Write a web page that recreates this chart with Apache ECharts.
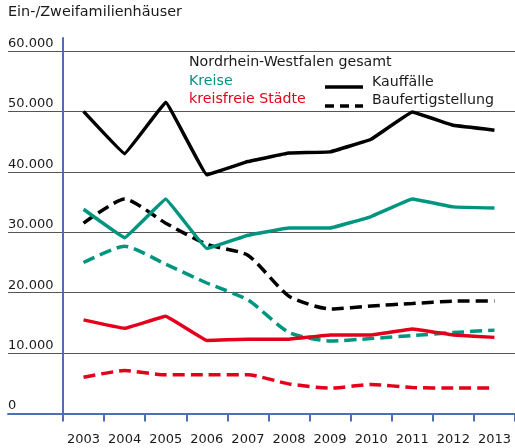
<!DOCTYPE html>
<html>
<head>
<meta charset="utf-8">
<script src="https://cdn.jsdelivr.net/npm/echarts@6/dist/echarts.min.js"></script>
<style>
  html, body { margin: 0; padding: 0; background: #fff; }
  #chart { width: 515px; height: 448px; }
</style>
</head>
<body>
<div id="chart"></div>
<script>
var years = ['2003', '2004', '2005', '2006', '2007', '2008', '2009', '2010', '2011', '2012', '2013']
var yTicks = ['0', '10.000', '20.000', '30.000', '40.000', '50.000', '60.000']

// Nordrhein-Westfalen gesamt
var nrwKauf = [50000, 43000, 51500, 39500, 41700, 43100, 43300, 45400, 49900, 47700, 46900]
var nrwBau = [31500, 35500, 31500, 28000, 26200, 19400, 17300, 17800, 18200, 18600, 18600]
// Kreise
var kreiseKauf = [33800, 29100, 35500, 27300, 29500, 30700, 30700, 32600, 35500, 34200, 34000]
var kreiseBau = [25000, 27700, 24700, 21600, 18800, 13400, 12000, 12400, 12900, 13400, 13800]
// kreisfreie Städte
var staedteKauf = [15500, 14100, 16100, 12100, 12300, 12300, 13000, 13000, 14000, 13000, 12600]
var staedteBau = [6000, 7100, 6400, 6400, 6400, 4900, 4200, 4800, 4300, 4200, 4200]

var black = '#000000'
var teal = '#00957f'
var red = '#e2001a'
var blue = '#4f6fb5'
var txt = '#1a1a1a'

var myChart = echarts.init(document.getElementById('chart'))

function line(name, data, color, dashed) {
  return {
    name: name,
    type: 'line',
    xAxisIndex: 1,
    yAxisIndex: 1,
    data: data,
    symbol: 'none',
    smooth: dashed ? 0.2 : 0.05,
    lineStyle: {
      color: color,
      width: 3.5,
      type: dashed ? [12, 6] : 'solid'
    },
    z: 5
  }
}

var option = {
  animation: false,
  grid: [
    // long gridlines + tick labels
    { left: 8, right: -4, top: 51, height: 362.5 },
    // data area
    { left: 63, right: -4, top: 38, height: 375.5 }
  ],
  xAxis: [
    {
      type: 'value', gridIndex: 0, min: 0, max: 1,
      axisLine: { show: true, lineStyle: { color: blue, width: 2 } },
      axisTick: { show: false }, axisLabel: { show: false }, splitLine: { show: false }
    },
    {
      type: 'category', gridIndex: 1, data: years, boundaryGap: true,
      axisLine: { show: true, lineStyle: { color: blue, width: 2 } },
      axisTick: { show: true, length: 8, lineStyle: { color: blue, width: 2 } },
      axisLabel: { color: txt, fontSize: 13, fontFamily: 'DejaVu Sans', margin: 20, interval: 0 },
      splitLine: { show: false }
    }
  ],
  yAxis: [
    {
      type: 'value', gridIndex: 0, min: 0, max: 60000, interval: 10000,
      axisLine: { show: false }, axisTick: { show: false },
      axisLabel: {
        inside: true, align: 'left', verticalAlign: 'bottom',
        color: txt, fontSize: 13, fontFamily: 'DejaVu Sans', margin: 0,
        padding: [0, 0, 1, 0],
        formatter: function (v) { return yTicks[v / 10000] }
      },
      splitLine: { show: true, lineStyle: { color: '#555', width: 1.2 } }
    },
    {
      type: 'value', gridIndex: 1, min: 0, max: 62150,
      axisLine: { show: true, lineStyle: { color: blue, width: 2 } },
      axisTick: { show: false }, axisLabel: { show: false }, splitLine: { show: false }
    }
  ],
  graphic: [
    { type: 'text', left: 8, top: 5, style: { text: 'Ein-/Zweifamilienhäuser', fill: txt, font: '14.4px "DejaVu Sans"' } },
    { type: 'text', left: 189, top: 55, style: { text: 'Nordrhein-Westfalen gesamt', fill: txt, font: '14.2px "DejaVu Sans"' } },
    { type: 'text', left: 189, top: 74, style: { text: 'Kreise', fill: teal, font: '14.2px "DejaVu Sans"' } },
    { type: 'text', left: 189, top: 92, style: { text: 'kreisfreie Städte', fill: red, font: '14.2px "DejaVu Sans"' } },
    { type: 'line', shape: { x1: 325, y1: 87, x2: 363, y2: 87 }, style: { stroke: black, lineWidth: 3.5 } },
    { type: 'line', shape: { x1: 325, y1: 106, x2: 363, y2: 106 }, style: { stroke: black, lineWidth: 3.5, lineDash: [9, 6] } },
    { type: 'text', left: 372, top: 75, style: { text: 'Kauffälle', fill: txt, font: '14.2px "DejaVu Sans"' } },
    { type: 'text', left: 372, top: 93, style: { text: 'Baufertigstellung', fill: txt, font: '14.2px "DejaVu Sans"' } }
  ],
  series: [
    line('NRW Kauffälle', nrwKauf, black, false),
    line('NRW Baufertigstellung', nrwBau, black, true),
    line('Kreise Kauffälle', kreiseKauf, teal, false),
    line('Kreise Baufertigstellung', kreiseBau, teal, true),
    line('kreisfreie Städte Kauffälle', staedteKauf, red, false),
    line('kreisfreie Städte Baufertigstellung', staedteBau, red, true)
  ]
}
myChart.setOption(option)
</script>
</body>
</html>
